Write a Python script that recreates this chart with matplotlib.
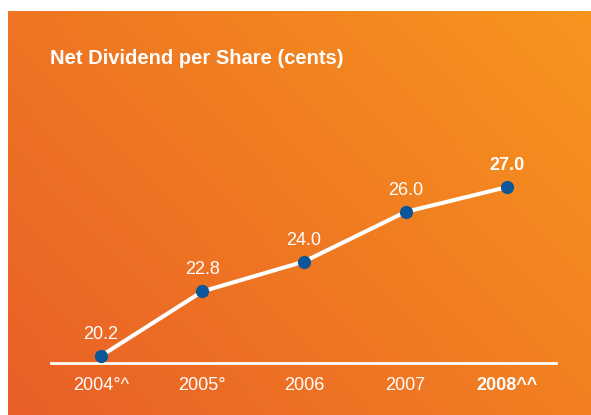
import numpy as np
import matplotlib
matplotlib.use("Agg")
import matplotlib.pyplot as plt
from matplotlib.colors import LinearSegmentedColormap

years = ["2004°^", "2005°", "2006", "2007", "2008^^"]
dividend = [20.2, 22.8, 24.0, 26.0, 27.0]
value_labels = ["20.2", "22.8", "24.0", "26.0", "27.0"]

plt.rcParams["font.family"] = ["Liberation Sans", "DejaVu Sans"]

W, H = 591, 415
fig = plt.figure(figsize=(W / 100, H / 100), dpi=100)
fig.patch.set_facecolor("white")

# orange panel with diagonal gradient
bg = fig.add_axes([8 / W, 0, 1 - 8 / W, 1 - 11 / H])
bg.set_axis_off()
gx, gy = np.meshgrid(np.linspace(0, 1, 300), np.linspace(0, 1, 300))
grad = (gx * 0.6 + gy * 0.4)
cmap = LinearSegmentedColormap.from_list("orange", ["#E95F27", "#F07A22", "#F7951E"])
bg.imshow(grad, cmap=cmap, origin="lower", aspect="auto", extent=(0, 1, 0, 1))
bg.set_xlim(0, 1)
bg.set_ylim(0, 1)

ax = fig.add_axes([51 / W, (H - 363) / H, 505 / W, (363 - 150) / H])
ax.patch.set_alpha(0)
x = np.arange(len(years))
ax.plot(x, dividend, color="white", lw=2.9, zorder=2, solid_capstyle="round")
ax.plot(x, dividend, "o", color="#0B5699", ms=8.5, zorder=3)
ax.set_xlim(-0.49, 4.48)
ax.set_ylim(19.92, 28.49)

for i, (v, t) in enumerate(zip(dividend, value_labels)):
    ax.annotate(t, (i, v), xytext=(0, 15.5), textcoords="offset points",
                ha="center", va="center", color="white", fontsize=13,
                fontweight="bold" if i == len(years) - 1 else "normal")

for s in ["top", "right", "left"]:
    ax.spines[s].set_visible(False)
ax.spines["bottom"].set_color("white")
ax.spines["bottom"].set_linewidth(2)
ax.set_yticks([])
ax.set_xticks(x)
ax.set_xticklabels(years, color="white", fontsize=13)
ax.tick_params(axis="x", length=0, pad=10)
ax.get_xticklabels()[-1].set_fontweight("bold")

fig.text(50 / W, 1 - 58 / H, "Net Dividend per Share (cents)", color="white",
         fontsize=14.5, fontweight="bold", ha="left", va="center")

fig.savefig("out.png", dpi=100)
